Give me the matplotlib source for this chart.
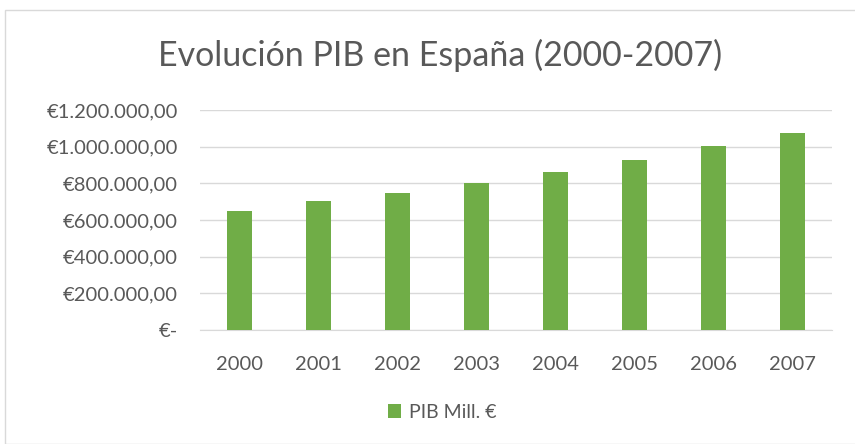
import numpy as np
import matplotlib
matplotlib.use("Agg")
import matplotlib.pyplot as plt
from matplotlib.patches import Rectangle

# ---------------------------------------------------------------------------
# Data
# ---------------------------------------------------------------------------
years = ["2000", "2001", "2002", "2003", "2004", "2005", "2006", "2007"]
pib = [647851, 700993, 749552, 802266, 859437, 927357, 1003823, 1075539]
yticks = [0, 200000, 400000, 600000, 800000, 1000000, 1200000]
ytick_labels = ["€-", "€200.000,00", "€400.000,00", "€600.000,00",
                "€800.000,00", "€1.000.000,00", "€1.200.000,00"]
title = "Evolución PIB en España (2000-2007)"
series_name = "PIB Mill. €"

GREEN = "#70AD47"
TEXT = "#595959"
GRID = "#D9D9D9"

plt.rcParams["font.family"] = ["Lato", "DejaVu Sans"]

fig = plt.figure(figsize=(8.55, 4.44), dpi=100)
# light frame around the chart area (Excel chart border)
fig.patches.append(Rectangle((5 / 855, 0.0), 1.0, 1 - 10 / 444,
                             transform=fig.transFigure, fill=False,
                             edgecolor=GRID, linewidth=1.0))

ax = fig.add_axes([200 / 855, 1 - 330 / 444, 632 / 855, 220 / 444])
x = np.arange(len(years))
ax.bar(x, pib, width=0.31, color=GREEN, zorder=3, label=series_name)

ax.set_xlim(-0.5, len(years) - 0.5)
ax.set_ylim(0, 1200000)
ax.set_yticks(yticks)
ax.set_yticklabels(ytick_labels)
ax.set_xticks(x)
ax.set_xticklabels(years)
ax.tick_params(axis="both", length=0, colors=TEXT, labelsize=14.5)
ax.tick_params(axis="x", pad=19)
ax.tick_params(axis="y", pad=16)
ax.grid(axis="y", color=GRID, linewidth=1.0, zorder=0)
for side in ["top", "right", "left"]:
    ax.spines[side].set_visible(False)
ax.spines["bottom"].set_color(GRID)

fig.text(440 / 855, 1 - 55 / 444, title, ha="center", va="center",
         fontsize=24.5, color=TEXT)

leg = fig.legend(loc="center", bbox_to_anchor=(442 / 855, 1 - 412 / 444),
                 frameon=False, fontsize=14, handlelength=0.7,
                 handleheight=0.7, handletextpad=0.4)
for t in leg.get_texts():
    t.set_color(TEXT)

fig.savefig("out.png", dpi=100)
